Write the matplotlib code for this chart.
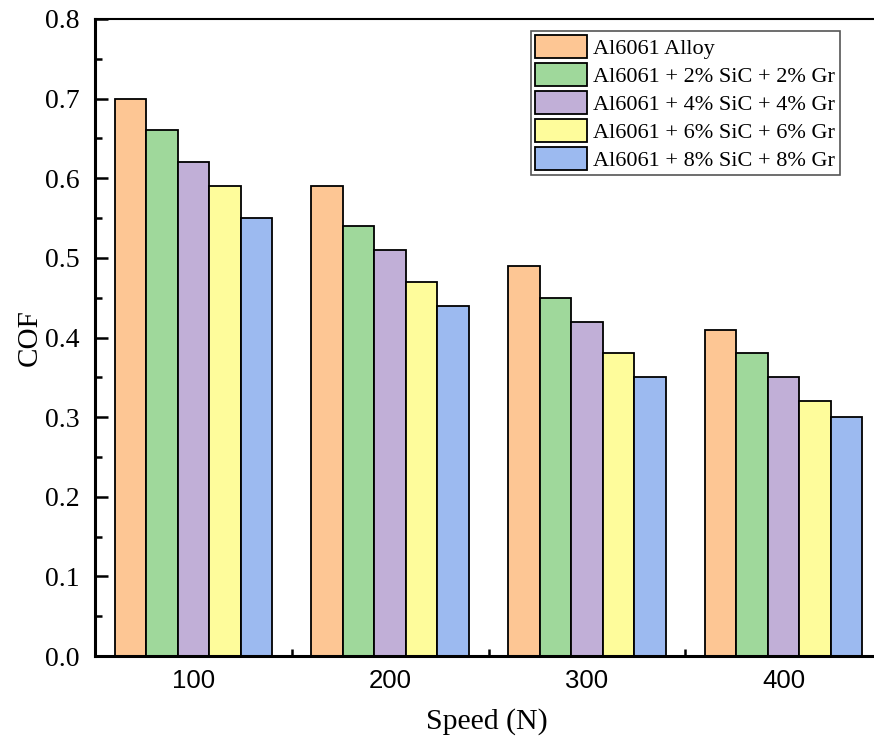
import numpy as np
import matplotlib.pyplot as plt
from matplotlib.ticker import MultipleLocator

# Data
speeds = [100, 200, 300, 400]
series_names = ['Al6061 Alloy',
                'Al6061 + 2% SiC + 2% Gr',
                'Al6061 + 4% SiC + 4% Gr',
                'Al6061 + 6% SiC + 6% Gr',
                'Al6061 + 8% SiC + 8% Gr']
cof_alloy = [0.70, 0.59, 0.49, 0.41]
cof_2pct = [0.66, 0.54, 0.45, 0.38]
cof_4pct = [0.62, 0.51, 0.42, 0.35]
cof_6pct = [0.59, 0.47, 0.38, 0.32]
cof_8pct = [0.55, 0.44, 0.35, 0.30]
colors = ['#FDC694', '#9FD89B', '#C1AFD7', '#FEFC9B', '#9CBAF0']

serif = 'Liberation Serif'
sans = 'Liberation Sans'

fig = plt.figure(figsize=(8.74, 7.44), dpi=100)
ax = fig.add_axes([95/874, 88/744, 787/874, 637/744])

all_series = [cof_alloy, cof_2pct, cof_4pct, cof_6pct, cof_8pct]
width = 16
x = np.array(speeds)
for i, (vals, name, c) in enumerate(zip(all_series, series_names, colors)):
    ax.bar(x + (i - 2) * width, vals, width, color=c, edgecolor='black',
           linewidth=1.3, label=name, zorder=2)

ax.set_xlim(50, 450)
ax.set_ylim(0, 0.8)
ax.set_xticks(speeds)
ax.xaxis.set_minor_locator(MultipleLocator(50))
ax.yaxis.set_major_locator(MultipleLocator(0.1))
ax.yaxis.set_minor_locator(MultipleLocator(0.05))
ax.set_yticklabels([f'{v:.1f}' for v in ax.get_yticks()], fontfamily=serif, fontsize=20)
ax.set_xticklabels([str(s) for s in speeds], fontfamily=sans, fontsize=18.5)

ax.tick_params(which='major', direction='in', length=9, width=1.8)
ax.tick_params(axis='y', which='major', pad=11)
ax.tick_params(axis='x', which='major', pad=9)
ax.tick_params(which='minor', direction='in', length=5, width=1.8)
ax.tick_params(axis='x', which='both', top=False)
ax.tick_params(axis='y', which='both', right=False)

for side in ['left', 'bottom']:
    ax.spines[side].set_linewidth(2.2)
ax.spines['top'].set_linewidth(1.5)

ax.set_xlabel('Speed (N)', fontfamily=serif, fontsize=21.5)
ax.set_ylabel('COF', fontfamily=serif, fontsize=21)
ax.xaxis.set_label_coords((487 - 95) / 787, -52/637)
ax.yaxis.set_label_coords(-52/787, 0.5)

leg = ax.legend(loc='upper left', bbox_to_anchor=(531/874, 1 - 31/744),
                bbox_transform=fig.transFigure, fancybox=False,
                edgecolor='#555555', framealpha=1,
                prop={'family': serif, 'size': 16},
                handlelength=2.3, handleheight=1.15, labelspacing=0.2,
                handletextpad=0.3, borderpad=0.2, borderaxespad=0)
leg.get_frame().set_linewidth(1.2)

fig.savefig('out.png', dpi=100)
